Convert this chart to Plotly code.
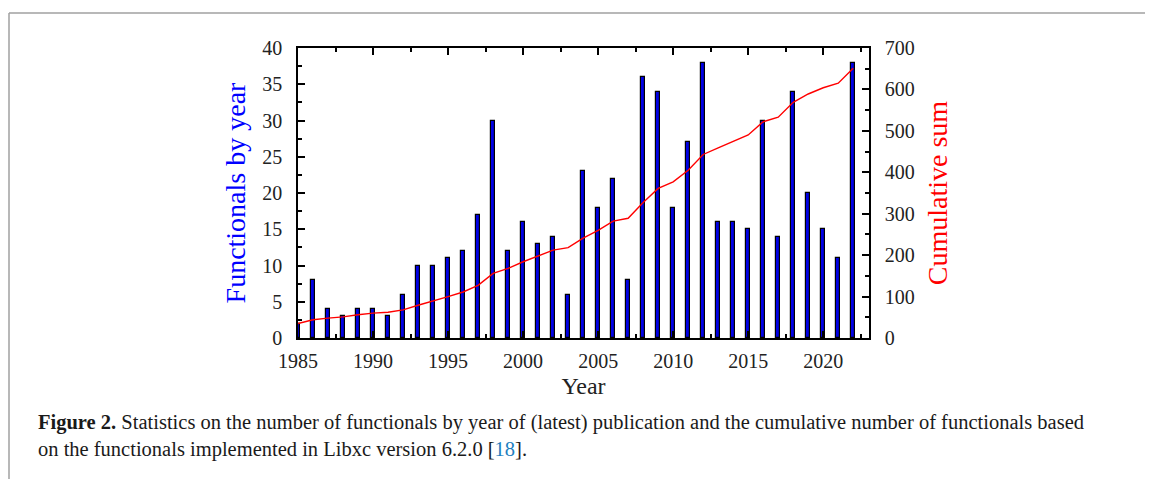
import plotly.graph_objects as go

years = list(range(1985, 2023))
by_year = [2, 8, 4, 3, 4, 4, 3, 6, 10, 10, 11, 12, 17, 30, 12, 16, 13, 14, 6, 23,
           18, 22, 8, 36, 34, 18, 27, 38, 16, 16, 15, 30, 14, 34, 20, 15, 11, 38]
cumulative = [35, 44, 48, 51, 56, 60, 62, 68, 79, 89, 100, 111, 127, 156, 168, 184, 198, 212,
              218, 241, 260, 282, 289, 327, 361, 377, 405, 443, 459, 475, 490, 522, 533, 569,
              589, 604, 615, 651]
x_ticks = [1985, 1990, 1995, 2000, 2005, 2010, 2015, 2020]

OFF = 8  # page body margin
W, H = 1153 - OFF, 479 - OFF
L, R, T, B = 298 - OFF, 869 - OFF, 48 - OFF, 338 - OFF

def px(x):
    return (x - OFF - L) / (R - L)

def py(y):
    return (B - (y - OFF)) / (B - T)

FONT = "Liberation Serif"

fig = go.Figure()
fig.add_trace(go.Bar(x=years, y=by_year, width=0.25,
                     marker=dict(color="#0000e6", line=dict(color="black", width=1.2)),
                     yaxis="y", showlegend=False))
fig.add_trace(go.Scatter(x=years, y=cumulative, mode="lines",
                         line=dict(color="#ff0000", width=1.4),
                         yaxis="y2", showlegend=False))

axis_common = dict(showline=True, linecolor="black", linewidth=1.5, ticks="inside",
                   tickcolor="black", tickwidth=1.5, showgrid=False, zeroline=False,
                   tickfont=dict(family=FONT, size=20, color="#222"))

fig.update_layout(
    width=W, height=H,
    margin=dict(l=L, r=W - R, t=T, b=H - B, autoexpand=False),
    plot_bgcolor="white", paper_bgcolor="white",
    bargap=0,
    xaxis=dict(range=[1985, 2023.05], tickvals=x_ticks, ticklen=7, mirror="ticks",
               ticklabelstandoff=4,
               minor=dict(dtick=2.5, tick0=1985, ticklen=4, ticks="inside", tickcolor="black", tickwidth=1.5),
               title=dict(text="Year", font=dict(family=FONT, size=24, color="#222"), standoff=6),
               **axis_common),
    yaxis=dict(range=[0, 40], dtick=5, ticklen=7, ticklabelstandoff=10,
               minor=dict(dtick=2.5, ticklen=4, ticks="inside", tickcolor="black", tickwidth=1.5),
               title=dict(text="Functionals by year", font=dict(family=FONT, size=28, color="#0000ff"), standoff=8),
               **axis_common),
    yaxis2=dict(range=[0, 700], dtick=100, ticklen=7, overlaying="y", side="right",
                ticklabelstandoff=10,
                minor=dict(dtick=50, ticklen=4, ticks="inside", tickcolor="black", tickwidth=1.5),
                title=dict(text="Cumulative sum", font=dict(family=FONT, size=28, color="#ff0000"), standoff=14),
                **axis_common),
)

# figure frame (gray border lines)
fig.add_shape(type="line", xref="paper", yref="paper", x0=px(9), x1=px(1153), y0=py(13), y1=py(13),
              line=dict(color="#a0a0a0", width=1.5))
fig.add_shape(type="line", xref="paper", yref="paper", x0=px(9), x1=px(9), y0=py(13), y1=py(479),
              line=dict(color="#a0a0a0", width=1.5))

caption = ("<b>Figure 2.</b> Statistics on the number of functionals by year of (latest) publication "
           "and the cumulative number of functionals based<br>"
           "on the functionals implemented in Libxc version 6.2.0 [<span style='color:#1f7fbf'>18</span>].")
fig.add_annotation(text=caption, xref="paper", yref="paper", x=px(36), y=py(435.5),
                   xanchor="left", yanchor="middle", align="left", showarrow=False,
                   font=dict(family=FONT, size=20.5, color="#1a1a1a"))

fig.write_html("out.html")
